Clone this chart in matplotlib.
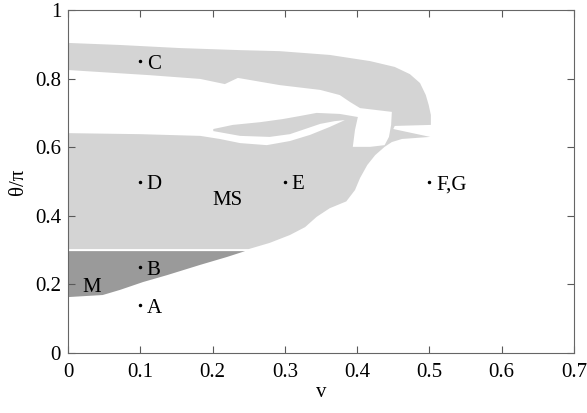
import numpy as np
import matplotlib.pyplot as plt

plt.rcParams['font.family'] = ['Liberation Serif', 'DejaVu Serif']
plt.rcParams['font.size'] = 15

## Regions (boundary points, v and theta/pi)

# light grey region MS (outer contour)
ms_v = [0, 0.072, 0.155, 0.238, 0.293, 0.362, 0.418, 0.452, 0.473, 0.487, 0.495, 0.499,
        0.502, 0.502, 0.452, 0.450, 0.501, 0.462, 0.448, 0.438, 0.425, 0.414, 0.404,
        0.397, 0.385, 0.362, 0.344, 0.328, 0.307, 0.279, 0.250, 0]
ms_t = [0.904, 0.898, 0.889, 0.883, 0.880, 0.869, 0.851, 0.834, 0.813, 0.787, 0.752, 0.723,
        0.694, 0.665, 0.662, 0.653, 0.630, 0.624, 0.615, 0.601, 0.577, 0.548, 0.510,
        0.475, 0.442, 0.422, 0.397, 0.367, 0.344, 0.321, 0.303, 0.303]

# white gap inside the grey region
gap_v = [0, 0.113, 0.183, 0.217, 0.235, 0.293, 0.349, 0.376, 0.390, 0.404, 0.448,
         0.447, 0.444, 0.438, 0.418, 0.394, 0.397, 0.401,
         0.376, 0.344, 0.321, 0.297, 0.266, 0.228, 0.201,
         0.201, 0.238, 0.279, 0.307, 0.328, 0.349, 0.369, 0.383,
         0.362, 0.335, 0.307, 0.275, 0.238, 0.210, 0.183, 0.100, 0]
gap_t = [0.825, 0.810, 0.799, 0.784, 0.802, 0.781, 0.767, 0.752, 0.732, 0.714, 0.703,
         0.665, 0.630, 0.606, 0.601, 0.601, 0.650, 0.688,
         0.697, 0.700, 0.691, 0.682, 0.673, 0.665, 0.653,
         0.647, 0.633, 0.630, 0.638, 0.653, 0.668, 0.676, 0.679,
         0.659, 0.636, 0.618, 0.606, 0.612, 0.624, 0.633, 0.638, 0.641]

# dark grey region M (lower boundary)
m_v = [0, 0.048, 0.072, 0.104, 0.137, 0.183, 0.220, 0.245]
m_t = [0.163, 0.169, 0.184, 0.207, 0.227, 0.257, 0.280, 0.297]

## Points
pt_v = [0.1, 0.1, 0.1, 0.1, 0.3, 0.5]
pt_t = [0.14, 0.25, 0.85, 0.5, 0.5, 0.5]
pt_lab = ['A', 'B', 'C', 'D', 'E', 'F,G']

## Plot
fig = plt.figure(figsize=(5.87, 4.13), dpi=100)
ax = fig.add_axes([68/587, 60/413, 506/587, 343/413])

ax.fill(ms_v, ms_t, color='#d4d4d4', lw=0)
ax.fill(gap_v, gap_t, color='white', lw=0)
ax.fill(m_v + [0], m_t + [0.297], color='#9a9a9a', lw=0)

ax.plot(pt_v, pt_t, '.', color='k', ms=3)
for v, t, s in zip(pt_v, pt_t, pt_lab):
    ax.text(v + 0.009, t - 0.01, s, va='center', ha='left')
ax.text(0.221, 0.446, 'MS', ha='center', va='center')
ax.text(0.033, 0.19, 'M', ha='center', va='center')

ax.set_xlim(0, 0.7)
ax.set_ylim(0, 1)
ax.set_xticks(np.arange(0, 0.71, 0.1))
ax.set_xticklabels(['0', '0.1', '0.2', '0.3', '0.4', '0.5', '0.6', '0.7'])
ax.set_yticks(np.arange(0, 1.01, 0.2))
ax.set_yticklabels(['0', '0.2', '0.4', '0.6', '0.8', '1'])
ax.tick_params(direction='in', top=True, right=True, length=5, color='0.35')
ax.tick_params(axis='x', pad=7)
ax.tick_params(axis='y', pad=5)
for sp in ax.spines.values():
    sp.set_color('0.4')
ax.set_xlabel('v', labelpad=1)
ax.set_ylabel('θ/π', labelpad=5)

fig.savefig('out.png')
